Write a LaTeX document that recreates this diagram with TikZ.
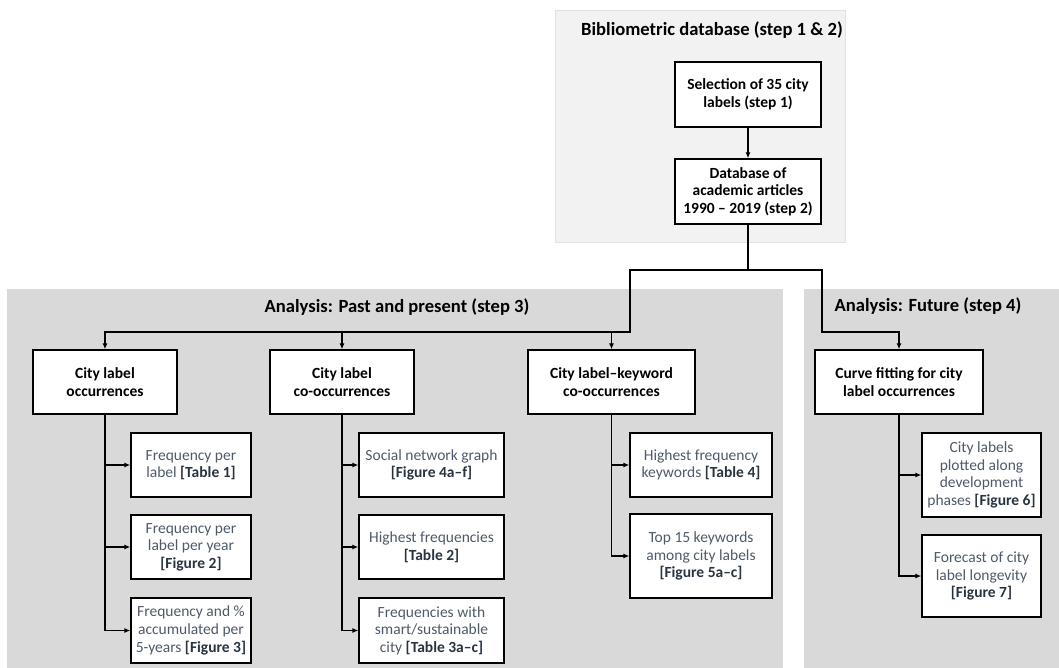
\documentclass[tikz,border=0pt]{standalone}
\usepackage{fontspec}
\setmainfont{Carlito}
\usetikzlibrary{arrows.meta, positioning}

\definecolor{paneltop}{HTML}{F2F2F2}
\definecolor{panelline}{HTML}{E2E2E2}
\definecolor{panelgray}{HTML}{D9D9D9}
\definecolor{subtext}{HTML}{4E5A6A}
\definecolor{reftext}{HTML}{2A3440}
\newcommand{\srcref}[1]{\textcolor{reftext}{\textbf{[#1]}}}

\tikzset{
  mainbox/.style={draw, line width=1.3pt, fill=white, align=center, inner sep=1pt,
    font=\bfseries\fontsize{15.5}{17.6}\selectfont},
  subbox/.style={draw, line width=1.3pt, fill=white, align=center, inner sep=1pt,
    text=subtext, font=\fontsize{15.5}{17.6}\selectfont},
  paneltitle/.style={font=\bfseries\fontsize{18.6}{21}\selectfont},
  link/.style={line width=1.2pt, -{Latex[length=6pt,width=5pt]}},
}

\begin{document}
\begin{tikzpicture}[x=1pt, y=-1pt]
\useasboundingbox (0,0) rectangle (1059,668);

% panels
\draw[fill=paneltop, draw=panelline] (555,10) rectangle (845,242);
\fill[panelgray] (7,289) rectangle (783,668);
\fill[panelgray] (804,289) rectangle (1059,668);
\node[paneltitle] (ttop) at (712,30) {Bibliometric database (step 1 \& 2)};
\node[paneltitle] (tpast) at (397,307) {Analysis: Past and present (step 3)};
\node[paneltitle] (tfut) at (928,306) {Analysis: Future (step 4)};

% database (step 1 & 2)
\node[mainbox, minimum width=146pt, minimum height=65pt] (sel) at (748,94.5) {Selection of 35 city\\labels (step 1)};
\node[mainbox, minimum width=146pt, minimum height=65pt] (db) at (748,191.5) {Database of\\academic articles\\1990 -- 2019 (step 2)};
\draw[link] (sel) -- (db);

% analysis boxes
\node[mainbox, minimum width=144pt, minimum height=64pt] (occ) at (105,382) {City label\\occurrences};
\node[mainbox, minimum width=144pt, minimum height=64pt] (cooc) at (342,382) {City label\\co-occurrences};
\node[mainbox, minimum width=167pt, minimum height=64pt] (kw) at (611.5,382) {City label--keyword\\co-occurrences};
\node[mainbox, minimum width=168pt, minimum height=64pt] (fit) at (899,382) {Curve fitting for city\\label occurrences};

% split from database
\coordinate (jl) at (630,270);
\coordinate (jld) at (630,332);
\coordinate (jr) at (822,270);
\coordinate (jrd) at (822,332);
\draw[link] (db.south) |- (jl) -- (jld) -| (occ.north);
\draw[link] (jld) -| (cooc.north);
\draw[link] (jld) -| (kw.north);
\draw[link] (db.south) |- (jr) -- (jrd) -| (fit.north);

% occurrences
\node[subbox, minimum width=120pt, minimum height=64pt] (a1) at (191,465) {Frequency per\\label \srcref{Table 1}};
\node[subbox, minimum width=120pt, minimum height=64pt] (a2) at (191,547) {Frequency per\\label per year\\\srcref{Figure 2}};
\node[subbox, minimum width=120pt, minimum height=65pt] (a3) at (191,630.5) {Frequency and \%\\accumulated per\\5-years \srcref{Figure 3}};
\foreach \n in {a1,a2,a3}
  \draw[link] (occ.south) |- (\n.west);

% co-occurrences
\node[subbox, minimum width=145pt, minimum height=64pt] (b1) at (431.5,465) {Social network graph\\\srcref{Figure 4a--f}};
\node[subbox, minimum width=145pt, minimum height=64pt] (b2) at (431.5,547) {Highest frequencies\\\srcref{Table 2}};
\node[subbox, minimum width=145pt, minimum height=65pt] (b3) at (431.5,630.5) {Frequencies with\\smart/sustainable\\city \srcref{Table 3a--c}};
\foreach \n in {b1,b2,b3}
  \draw[link] (cooc.south) |- (\n.west);

% keyword co-occurrences
\node[subbox, minimum width=142pt, minimum height=64pt] (c1) at (701,465) {Highest frequency\\keywords \srcref{Table 4}};
\node[subbox, minimum width=142pt, minimum height=84pt] (c2) at (701,556) {Top 15 keywords\\among city labels\\\srcref{Figure 5a--c}};
\foreach \n in {c1,c2}
  \draw[link] (kw.south) |- (\n.west);

% future
\node[subbox, minimum width=119pt, minimum height=84pt] (d1) at (981.5,475) {City labels\\plotted along\\development\\phases \srcref{Figure 6}};
\node[subbox, minimum width=119pt, minimum height=82pt] (d2) at (981.5,576) {Forecast of city\\label longevity\\\srcref{Figure 7}};
\foreach \n in {d1,d2}
  \draw[link] (fit.south) |- (\n.west);
\end{tikzpicture}
\end{document}
